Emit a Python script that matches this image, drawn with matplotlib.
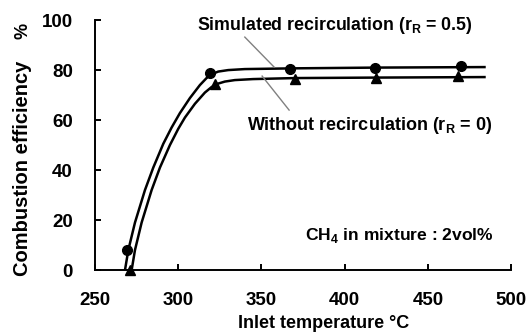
import matplotlib.pyplot as plt

plt.rcParams['font.family'] = ['Liberation Sans', 'DejaVu Sans']

# measured points
temp_sim = [269, 319, 367, 418, 470]
eff_sim = [8, 79, 80.4, 80.8, 81.5]
temp_wo = [271, 322, 370, 419, 468]
eff_wo = [0, 74.5, 76.5, 77, 77.5]

# fitted curves
curve_sim_x = [268, 270, 274, 280, 285, 291, 296, 301, 307, 313, 317, 320, 324, 330, 340, 370, 420, 484]
curve_sim_y = [0, 8, 19, 32, 41, 50.5, 57, 62.8, 68.8, 74, 76.8, 78.3, 79.4, 80, 80.4, 80.7, 81, 81.2]
curve_wo_x = [272, 274, 278, 284, 289, 295, 300, 304, 310, 316, 320, 324, 328, 334, 345, 370, 420, 484]
curve_wo_y = [0, 8, 19, 32, 41, 50, 56.5, 61, 66.5, 71, 73.2, 74.6, 75.4, 76, 76.4, 76.8, 77, 77.2]

xticks = [250, 300, 350, 400, 450, 500]
yticks = [0, 20, 40, 60, 80, 100]

fig = plt.figure(figsize=(5.28, 3.35), dpi=100)
ax = fig.add_axes([0.18, 0.194, 0.788, 0.746])

ax.plot(curve_sim_x, curve_sim_y, color='black', lw=1.8)
ax.plot(curve_wo_x, curve_wo_y, color='black', lw=1.8)
ax.plot(temp_sim, eff_sim, 'o', color='black', ms=7, clip_on=False, zorder=3)
ax.plot(temp_wo, eff_wo, '^', color='black', ms=6.5, clip_on=False, zorder=3)

ax.set_xlim(250, 500)
ax.set_ylim(0, 100)
ax.set_xticks(xticks)
ax.set_yticks(yticks)
ax.spines['top'].set_visible(False)
ax.spines['right'].set_visible(False)
for s in ('left', 'bottom'):
    ax.spines[s].set_linewidth(1.4)
ax.tick_params(direction='in', length=4, width=1.4, labelsize=13.5, pad=16)
for lab in ax.get_xticklabels() + ax.get_yticklabels():
    lab.set_fontweight('bold')

fig.text(23 / 528, 1 - 168 / 335, 'Combustion efficiency', rotation=90,
         ha='center', va='center', fontsize=14.5, fontweight='bold')
fig.text(23 / 528, 1 - 31 / 335, '%', rotation=90,
         ha='center', va='center', fontsize=13, fontweight='bold')
fig.text(324 / 528, 1 - 323 / 335, 'Inlet temperature \u00b0C',
         ha='center', va='center', fontsize=13, fontweight='bold')

# leader lines
ax.plot([340, 357.6], [93.2, 81.2], color='gray', lw=1)
ax.plot([350.4, 366.6], [77.6, 64], color='gray', lw=1)

ax.text(394, 98, 'Simulated recirculation (r$_{\\mathregular{R}}$ = 0.5)', ha='center', va='center',
        fontsize=12.8, fontweight='bold')
ax.text(415, 58, 'Without recirculation (r$_{\\mathregular{R}}$ = 0)', ha='center', va='center',
        fontsize=13, fontweight='bold')
ax.text(433, 14, 'CH$_{\\mathregular{4}}$ in mixture : 2vol%', ha='center', va='center',
        fontsize=12.6, fontweight='bold')

fig.savefig('out.png', dpi=100)
